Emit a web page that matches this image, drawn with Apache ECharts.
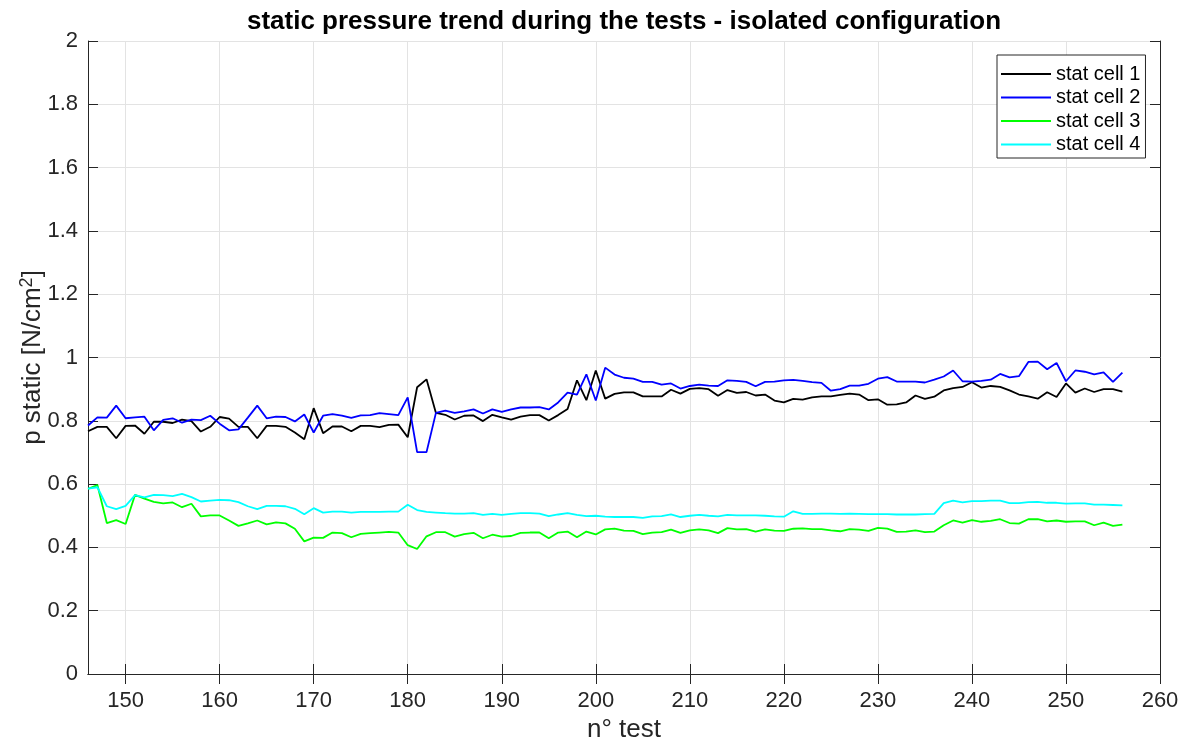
<!DOCTYPE html>
<html>
<head>
<meta charset="utf-8">
<script src="https://cdn.jsdelivr.net/npm/echarts@6/dist/echarts.min.js"></script>
<style>
  html, body { margin: 0; padding: 0; background: #fff; }
  #chart { width: 1190px; height: 741px; }
</style>
</head>
<body>
<div id="chart"></div>
<script>
// test numbers
var tests = [146, 147, 148, 149, 150, 151, 152, 153, 154, 155, 156, 157, 158, 159, 160,
  161, 162, 163, 164, 165, 166, 167, 168, 169, 170, 171, 172, 173, 174, 175,
  176, 177, 178, 179, 180, 181, 182, 183, 184, 185, 186, 187, 188, 189, 190,
  191, 192, 193, 194, 195, 196, 197, 198, 199, 200, 201, 202, 203, 204, 205,
  206, 207, 208, 209, 210, 211, 212, 213, 214, 215, 216, 217, 218, 219, 220,
  221, 222, 223, 224, 225, 226, 227, 228, 229, 230, 231, 232, 233, 234, 235,
  236, 237, 238, 239, 240, 241, 242, 243, 244, 245, 246, 247, 248, 249, 250,
  251, 252, 253, 254, 255, 256];

var cell1 = [0.767, 0.781, 0.781, 0.745, 0.784, 0.785, 0.759, 0.797, 0.797, 0.793, 0.804, 0.799, 0.766, 0.781, 0.812,
  0.807, 0.781, 0.781, 0.745, 0.784, 0.784, 0.781, 0.763, 0.742, 0.840, 0.761, 0.782, 0.782, 0.767, 0.784,
  0.784, 0.780, 0.787, 0.788, 0.748, 0.906, 0.931, 0.825, 0.819, 0.804, 0.816, 0.817, 0.799, 0.819, 0.811,
  0.804, 0.813, 0.818, 0.818, 0.801, 0.818, 0.837, 0.928, 0.865, 0.959, 0.870, 0.885, 0.890, 0.890, 0.877,
  0.877, 0.877, 0.898, 0.886, 0.901, 0.903, 0.900, 0.879, 0.897, 0.888, 0.891, 0.880, 0.883, 0.864, 0.858,
  0.869, 0.867, 0.874, 0.877, 0.877, 0.882, 0.886, 0.883, 0.865, 0.868, 0.851, 0.852, 0.858, 0.880, 0.869,
  0.876, 0.896, 0.903, 0.907, 0.922, 0.905, 0.910, 0.907, 0.896, 0.883, 0.877, 0.870, 0.890, 0.875, 0.918,
  0.889, 0.902, 0.891, 0.900, 0.900, 0.892];

var cell2 = [0.785, 0.811, 0.810, 0.848, 0.808, 0.811, 0.813, 0.770, 0.803, 0.808, 0.794, 0.804, 0.802, 0.816, 0.791,
  0.770, 0.773, 0.810, 0.848, 0.808, 0.813, 0.812, 0.798, 0.820, 0.763, 0.816, 0.821, 0.816, 0.809, 0.817,
  0.818, 0.824, 0.821, 0.818, 0.874, 0.701, 0.701, 0.825, 0.832, 0.825, 0.830, 0.836, 0.823, 0.836, 0.828,
  0.836, 0.842, 0.842, 0.843, 0.836, 0.858, 0.889, 0.883, 0.947, 0.864, 0.968, 0.946, 0.936, 0.933, 0.923,
  0.923, 0.914, 0.918, 0.902, 0.910, 0.914, 0.911, 0.910, 0.928, 0.926, 0.923, 0.909, 0.923, 0.924, 0.928,
  0.929, 0.926, 0.922, 0.920, 0.895, 0.900, 0.911, 0.911, 0.917, 0.933, 0.938, 0.924, 0.924, 0.924, 0.921,
  0.930, 0.940, 0.959, 0.925, 0.924, 0.926, 0.930, 0.948, 0.937, 0.941, 0.986, 0.987, 0.963, 0.983, 0.925,
  0.959, 0.955, 0.947, 0.953, 0.923, 0.952];

var cell3 = [0.585, 0.597, 0.477, 0.486, 0.474, 0.566, 0.554, 0.544, 0.539, 0.542, 0.527, 0.538, 0.498, 0.501, 0.501,
  0.485, 0.468, 0.476, 0.485, 0.473, 0.479, 0.476, 0.459, 0.419, 0.431, 0.430, 0.447, 0.445, 0.432, 0.443,
  0.445, 0.447, 0.449, 0.447, 0.407, 0.395, 0.435, 0.448, 0.448, 0.434, 0.442, 0.446, 0.429, 0.440, 0.434,
  0.436, 0.446, 0.447, 0.447, 0.429, 0.447, 0.450, 0.432, 0.450, 0.441, 0.457, 0.459, 0.453, 0.452, 0.442,
  0.447, 0.448, 0.456, 0.446, 0.454, 0.457, 0.454, 0.445, 0.461, 0.457, 0.458, 0.450, 0.457, 0.453, 0.452,
  0.459, 0.460, 0.458, 0.458, 0.454, 0.451, 0.458, 0.456, 0.452, 0.462, 0.459, 0.449, 0.450, 0.454, 0.448,
  0.450, 0.470, 0.485, 0.478, 0.486, 0.481, 0.484, 0.489, 0.477, 0.475, 0.489, 0.489, 0.482, 0.485, 0.481,
  0.482, 0.482, 0.470, 0.478, 0.468, 0.472];

var cell4 = [0.586, 0.590, 0.530, 0.521, 0.531, 0.565, 0.558, 0.566, 0.565, 0.562, 0.569, 0.559, 0.545, 0.548, 0.550,
  0.549, 0.543, 0.530, 0.521, 0.531, 0.531, 0.530, 0.522, 0.505, 0.524, 0.510, 0.513, 0.513, 0.510, 0.512,
  0.512, 0.512, 0.513, 0.513, 0.535, 0.518, 0.512, 0.510, 0.508, 0.507, 0.507, 0.508, 0.503, 0.506, 0.503,
  0.506, 0.508, 0.508, 0.507, 0.499, 0.504, 0.508, 0.503, 0.499, 0.500, 0.497, 0.496, 0.496, 0.496, 0.493,
  0.498, 0.499, 0.504, 0.496, 0.500, 0.503, 0.500, 0.498, 0.503, 0.501, 0.501, 0.501, 0.500, 0.498, 0.497,
  0.514, 0.506, 0.506, 0.507, 0.507, 0.506, 0.507, 0.506, 0.505, 0.505, 0.505, 0.504, 0.504, 0.504, 0.505,
  0.506, 0.540, 0.548, 0.542, 0.546, 0.546, 0.548, 0.548, 0.540, 0.540, 0.543, 0.544, 0.541, 0.541, 0.538,
  0.539, 0.539, 0.535, 0.535, 0.534, 0.533];

var seriesNames = ["stat cell 1", "stat cell 2", "stat cell 3", "stat cell 4"];
var seriesColors = ["#000000", "#0000ff", "#00ff00", "#00ffff"];
var xTicks = [150, 160, 170, 180, 190, 200, 210, 220, 230, 240, 250, 260];

var FONT = "'Liberation Sans', Arial, Helvetica, sans-serif";
var AXIS_COLOR = "#262626";

function pairs(vals) {
  return tests.map(function (t, i) { return [t, vals[i]]; });
}

var allCells = [cell1, cell2, cell3, cell4];
var series = allCells.map(function (vals, i) {
  return {
    name: seriesNames[i],
    type: "line",
    data: pairs(vals),
    showSymbol: false,
    symbol: "none",
    animation: false,
    lineStyle: { color: seriesColors[i], width: 1.8 },
    itemStyle: { color: seriesColors[i] }
  };
});

var chart = echarts.init(document.getElementById("chart"));
chart.setOption({
  backgroundColor: "#ffffff",
  animation: false,
  title: {
    text: "static pressure trend during the tests - isolated configuration",
    left: 619,
    textAlign: "center",
    top: 4,
    textStyle: { fontFamily: FONT, fontSize: 26, fontWeight: "bold", color: "#000" }
  },
  legend: {
    data: seriesNames,
    orient: "vertical",
    left: 997,
    top: 55,
    padding: [9, 5, 3.5, 3],
    itemWidth: 50,
    itemHeight: 16,
    itemGap: 3.5,
    itemStyle: { opacity: 0 },
    backgroundColor: "#fff",
    borderColor: "#262626",
    borderWidth: 1,
    textStyle: { fontFamily: FONT, fontSize: 20, color: "#000" }
  },
  grid: { left: 88, right: 30, top: 41, bottom: 67, outerBoundsMode: "none" },
  xAxis: [
    {
      type: "value",
      min: 146,
      max: 260,
      name: "n° test",
      nameLocation: "middle",
      nameGap: 42,
      nameTextStyle: { fontFamily: FONT, fontSize: 26, color: AXIS_COLOR },
      axisLine: { lineStyle: { color: AXIS_COLOR, width: 1 } },
      axisTick: { inside: true, length: 10, customValues: xTicks, lineStyle: { color: AXIS_COLOR } },
      axisLabel: { customValues: xTicks, margin: 16, fontFamily: FONT, fontSize: 22, color: AXIS_COLOR },
      splitLine: { show: true, lineStyle: { color: "#e3e3e3", width: 1 } }
    },
    {
      type: "value",
      position: "top",
      min: 146,
      max: 260,
      axisLine: { lineStyle: { color: AXIS_COLOR, width: 1 } },
      axisTick: { inside: true, length: 10, customValues: xTicks, lineStyle: { color: AXIS_COLOR } },
      axisLabel: { show: false },
      splitLine: { show: false }
    }
  ],
  yAxis: [
    {
      type: "value",
      min: 0,
      max: 2,
      interval: 0.2,
      name: "{a|p static [N/cm}{s|2}{a|]}",
      nameLocation: "middle",
      nameGap: 40,
      nameMoveOverlap: false,
      nameRotate: 90,
      nameTextStyle: {
        rich: {
          a: { fontFamily: FONT, fontSize: 26, color: AXIS_COLOR },
          s: { fontFamily: FONT, fontSize: 18, color: AXIS_COLOR, verticalAlign: "top", padding: [0, 0, 12, 0] }
        }
      },
      axisLine: { show: true, lineStyle: { color: AXIS_COLOR, width: 1 } },
      axisTick: { show: true, inside: true, length: 10, lineStyle: { color: AXIS_COLOR } },
      axisLabel: { margin: 10, fontFamily: FONT, fontSize: 22, color: AXIS_COLOR },
      splitLine: { show: true, lineStyle: { color: "#e3e3e3", width: 1 } }
    },
    {
      type: "value",
      position: "right",
      min: 0,
      max: 2,
      interval: 0.2,
      axisLine: { show: true, lineStyle: { color: AXIS_COLOR, width: 1 } },
      axisTick: { show: true, inside: true, length: 10, lineStyle: { color: AXIS_COLOR } },
      axisLabel: { show: false },
      splitLine: { show: false }
    }
  ],
  series: series
});
</script>
</body>
</html>
